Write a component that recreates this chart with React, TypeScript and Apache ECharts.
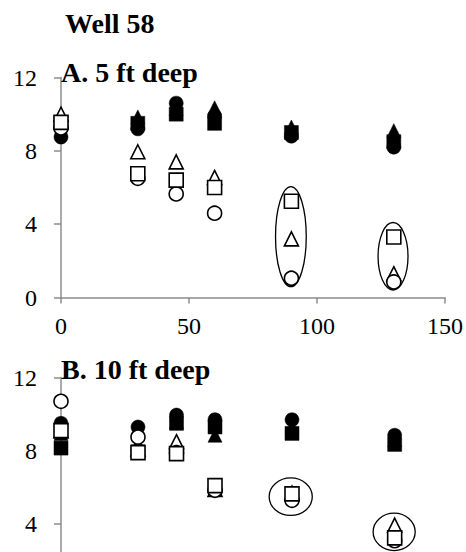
import React, { useEffect, useRef } from "react";
import * as echarts from "echarts";

// Sampling depth panels share the same x positions
const xValues = [0, 30, 45, 60, 90, 130];
const xTicks = [0, 50, 100, 150];
const yTicks = [0, 4, 8, 12];

// Panel A: 5 ft deep
const filledCircleA = [8.75, 9.2, 10.6, 9.9, 8.8, 8.2];
const filledSquareA = [9.55, 9.5, 10.0, 9.5, 9.0, 8.5];
const filledTriangleA = [9.55, 9.85, 10.3, 10.35, 9.3, 9.1];
const openTriangleA = [10.0, 7.95, 7.4, 6.55, 3.2, 1.3];
const openCircleA = [9.25, 6.5, 5.65, 4.6, 1.05, 0.85];
const openSquareA = [9.55, 6.75, 6.4, 6.0, 5.25, 3.3];

// Panel B: 10 ft deep
const filledCircleB = [9.5, 9.3, 9.95, 9.7, 9.7, 8.85];
const filledSquareB = [8.15, 7.95, 9.5, 9.3, 8.95, 8.35];
const filledTriangleB = [8.95, 8.4, 9.6, 8.85, 9.3, 8.6];
const openTriangleB = [9.1, 8.1, 8.5, 5.9, 5.7, 3.95];
const openCircleB = [10.7, 8.75, 7.9, 5.85, 5.3, 3.1];
const openSquareB = [9.1, 7.9, 7.85, 6.1, 5.65, 3.25];

// Ellipse annotations: [x center, y center, x half-width, y half-height] in data units
const ellipsesA = [
  [89.8, 3.32, 6.0, 2.73],
  [129.7, 2.25, 5.85, 1.84],
];
const ellipsesB = [
  [89.5, 5.5, 8.4, 1.02],
  [129.8, 3.58, 8.2, 1.02],
];

const titles = ["Well 58", "A. 5 ft deep", "B. 10 ft deep"];

const FONT = "Liberation Serif";
const AXIS_COLOR = "#8c8c8c";

function pairs(ys: number[]) {
  return xValues.map((x, i) => [x, ys[i]]);
}

function markerSeries(
  name: string,
  ys: number[],
  idx: number,
  symbol: string,
  filled: boolean
) {
  return {
    name,
    type: "scatter",
    xAxisIndex: idx,
    yAxisIndex: idx,
    data: pairs(ys),
    symbol,
    symbolSize: 14,
    itemStyle: filled
      ? { color: "#000", borderColor: "#000", borderWidth: 0.5, opacity: 1 }
      : { color: "#fff", borderColor: "#000", borderWidth: 1.6, opacity: 1 },
    emphasis: { disabled: true },
    z: filled ? 2 : 3,
  };
}

function ellipseSeries(data: number[][], idx: number) {
  return {
    type: "custom",
    xAxisIndex: idx,
    yAxisIndex: idx,
    data,
    clip: false,
    z: 4,
    renderItem: (params: any, api: any) => {
      const c = api.coord([api.value(0), api.value(1)]);
      const s = api.size([api.value(2), api.value(3)]);
      return {
        type: "ellipse",
        shape: { cx: c[0], cy: c[1], rx: s[0], ry: s[1] },
        style: { fill: "none", stroke: "#000", lineWidth: 1.3 },
      };
    },
  };
}

function xAxis(idx: number, showLabels: boolean) {
  return {
    type: "value",
    gridIndex: idx,
    min: xTicks[0],
    max: xTicks[xTicks.length - 1],
    interval: 50,
    splitLine: { show: false },
    axisLine: { show: true, onZero: true, lineStyle: { color: AXIS_COLOR, width: 1.5 } },
    axisTick: { show: true, length: 6, lineStyle: { color: AXIS_COLOR, width: 1.5 } },
    axisLabel: { show: showLabels, color: "#000", fontFamily: FONT, fontSize: 24, margin: 16 },
  };
}

function yAxis(idx: number, showMin: boolean) {
  return {
    type: "value",
    gridIndex: idx,
    min: yTicks[0],
    max: yTicks[yTicks.length - 1],
    interval: 4,
    splitLine: { show: false },
    axisLine: { show: true, lineStyle: { color: AXIS_COLOR, width: 1.5 } },
    axisTick: { show: true, length: 7, lineStyle: { color: AXIS_COLOR, width: 1.5 } },
    axisLabel: {
      color: "#000",
      fontFamily: FONT,
      fontSize: 24,
      margin: 24,
      showMinLabel: showMin,
    },
  };
}

function titleText(text: string, x: number, y: number) {
  return {
    type: "text",
    x,
    y,
    z: 10,
    style: {
      text,
      fontSize: 28,
      fontWeight: "bold",
      fontFamily: FONT,
      fill: "#000",
      verticalAlign: "middle",
    },
  };
}

export default function App() {
  const ref = useRef<HTMLDivElement>(null);

  useEffect(() => {
    if (!ref.current) return;
    const chart = echarts.init(ref.current, null, { renderer: "svg" });
    chart.setOption({
      animation: false,
      backgroundColor: "#fff",
      textStyle: { fontFamily: FONT },
      grid: [
        { left: 61, width: 385, top: 77.5, height: 220 },
        { left: 61, width: 385, top: 377.5, height: 220 },
      ],
      xAxis: [xAxis(0, true), xAxis(1, false)],
      yAxis: [yAxis(0, true), yAxis(1, false)],
      graphic: [
        titleText(titles[0], 65, 23),
        titleText(titles[1], 61, 72),
        titleText(titles[2], 61, 369),
      ],
      series: [
        ellipseSeries(ellipsesA, 0),
        markerSeries("filled circle", filledCircleA, 0, "circle", true),
        markerSeries("filled square", filledSquareA, 0, "rect", true),
        markerSeries("filled triangle", filledTriangleA, 0, "triangle", true),
        markerSeries("open triangle", openTriangleA, 0, "triangle", false),
        markerSeries("open circle", openCircleA, 0, "circle", false),
        markerSeries("open square", openSquareA, 0, "rect", false),
        ellipseSeries(ellipsesB, 1),
        markerSeries("filled circle", filledCircleB, 1, "circle", true),
        markerSeries("filled square", filledSquareB, 1, "rect", true),
        markerSeries("filled triangle", filledTriangleB, 1, "triangle", true),
        markerSeries("open triangle", openTriangleB, 1, "triangle", false),
        markerSeries("open circle", openCircleB, 1, "circle", false),
        markerSeries("open square", openSquareB, 1, "rect", false),
      ],
    });
    return () => chart.dispose();
  }, []);

  return (
    <div
      style={{
        position: "fixed",
        left: 0,
        top: 0,
        width: 466,
        height: 552,
        overflow: "hidden",
        background: "#fff",
      }}
    >
      <div ref={ref} style={{ width: 466, height: 660 }} />
    </div>
  );
}
